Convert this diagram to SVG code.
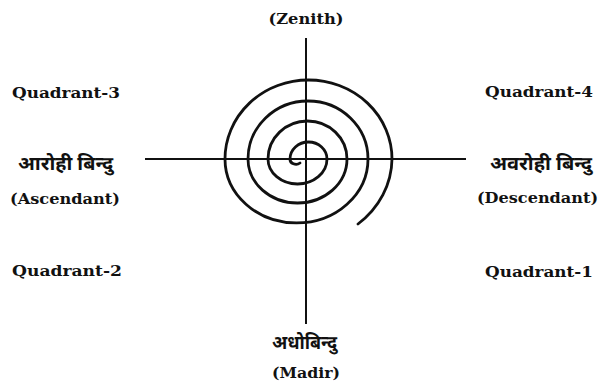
<svg xmlns="http://www.w3.org/2000/svg" width="600" height="382" viewBox="0 0 600 382">
<style>
.lbl{font-family:"DejaVu Serif","Liberation Serif",serif;font-weight:bold;font-size:14px;fill:#111}
.dev{font-family:"Noto Sans Devanagari","Noto Serif Devanagari","Lohit Devanagari","FreeSerif","Noto Sans",sans-serif;font-weight:bold;font-size:19px;fill:#111}
.ln{stroke:#111;stroke-width:2;fill:none}
.sp{stroke:#111;stroke-width:2.8;fill:none;stroke-linecap:round}
</style>
<rect width="600" height="382" fill="#fff"/>
<g id="connectors">
<line class="ln" x1="306" y1="38" x2="306" y2="324"/>
<line class="ln" x1="145" y1="159" x2="466" y2="159"/>
</g>
<g id="spiral">
<path class="sp" d="M300 163 A6 5 0 0 1 290 159 A18.5 17 0 0 1 327 159 A29.5 25 0 0 1 268 159 A39.5 38 0 0 1 347 159 A49.5 44 0 0 1 248 159 A60 58 0 0 1 368 159 A71.5 64 0 0 1 225 159 A83.5 79 0 0 1 392 159 A95 86 0 0 1 358 224"/>
</g>
<g id="zenith"><text class="lbl" x="306" y="24" text-anchor="middle" textLength="75" lengthAdjust="spacingAndGlyphs">(Zenith)</text></g>
<g id="quadrant3"><text class="lbl" x="12" y="98" textLength="108" lengthAdjust="spacingAndGlyphs">Quadrant-3</text></g>
<g id="quadrant4"><text class="lbl" x="485" y="97" textLength="108" lengthAdjust="spacingAndGlyphs">Quadrant-4</text></g>
<g id="ascendant">
<text class="dev" x="18" y="170" textLength="95" lengthAdjust="spacingAndGlyphs">आरोही बिन्दु</text>
<text class="lbl" x="10" y="204" textLength="110" lengthAdjust="spacingAndGlyphs">(Ascendant)</text>
</g>
<g id="descendant">
<text class="dev" x="490" y="170" textLength="102" lengthAdjust="spacingAndGlyphs">अवरोही बिन्दु</text>
<text class="lbl" x="477" y="203" textLength="121" lengthAdjust="spacingAndGlyphs">(Descendant)</text>
</g>
<g id="quadrant2"><text class="lbl" x="12" y="276" textLength="110" lengthAdjust="spacingAndGlyphs">Quadrant-2</text></g>
<g id="quadrant1"><text class="lbl" x="485" y="277" textLength="108" lengthAdjust="spacingAndGlyphs">Quadrant-1</text></g>
<g id="nadir">
<text class="dev" x="272" y="349" textLength="65" lengthAdjust="spacingAndGlyphs">अधोबिन्दु</text>
<text class="lbl" x="306" y="378" text-anchor="middle" textLength="68" lengthAdjust="spacingAndGlyphs">(Madir)</text>
</g>
</svg>
